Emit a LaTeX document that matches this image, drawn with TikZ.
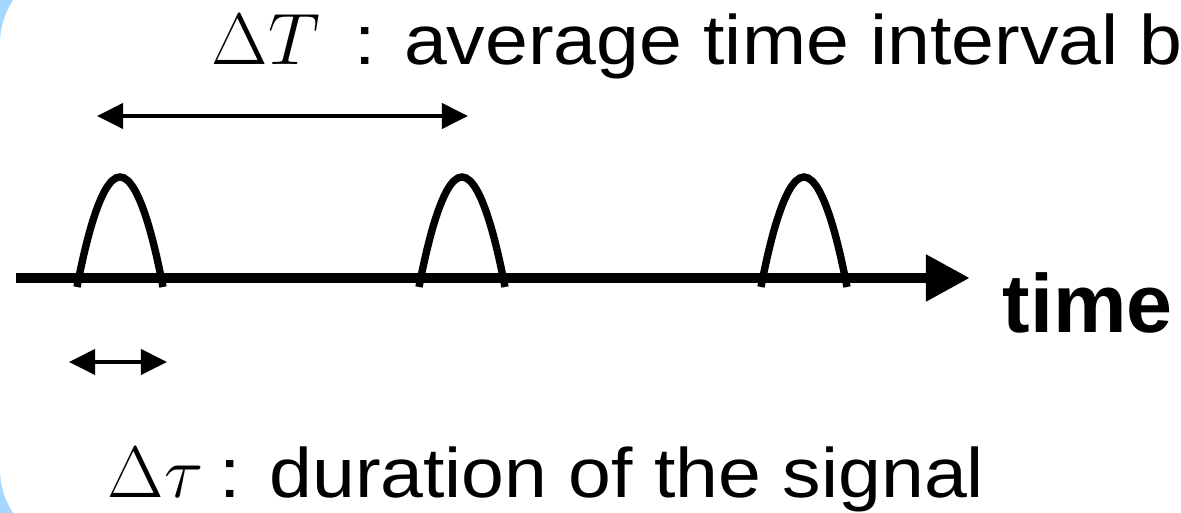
\documentclass[tikz,border=0pt]{standalone}
\usepackage{fontspec}
\usetikzlibrary{arrows.meta, positioning}
\newfontfamily\labelfont{Liberation Sans}[FakeStretch=1.1]
\newfontfamily\axisfont{Liberation Sans}
\definecolor{frameBlue}{HTML}{A6D8FF}
\newcommand{\mathsize}{\fontsize{21.6pt}{26pt}\selectfont}
\tikzset{
  labelText/.style={anchor=base west, inner sep=0pt,
                    font=\labelfont\fontsize{19.9pt}{24pt}\selectfont},
  axisText/.style={anchor=base west, inner sep=0pt,
                   font=\axisfont\bfseries\fontsize{23.5pt}{28pt}\selectfont},
  timeLine/.style={-{Triangle[length=0.44cm, width=0.44cm]}, line width=3.1pt},
  pulse/.style={line width=2.1pt},
  spanArrow/.style={{Triangle[length=0.26cm, width=0.25cm]}-{Triangle[length=0.26cm, width=0.25cm]},
                    line width=1.1pt},
}

\begin{document}
\begin{tikzpicture}[x=0.01cm, y=-0.01cm]
    \useasboundingbox (0,0) rectangle (1181,513);
    \clip (0,0) rectangle (1181,513);
    % frame
    \fill[frameBlue] (0,0) rectangle (1181,513);
    \fill[white, rounded corners=22.8pt] (0,-36) rectangle (1300,549);
    % time axis
    \coordinate (t0) at (16,278);
    \coordinate (t1) at (970,278);
    \draw[timeLine] (t0) -- (t1);
    \node[axisText] (time) at (1002,333) {time};
    % signals
    \foreach \x in {77, 419, 761}
      \draw[pulse] (\x,287) parabola bend (\x+43,177) (\x+86,287);
    % intervals
    \coordinate (TL) at (97,116);
    \coordinate (TR) at (468,116);
    \draw[spanArrow] (TL) -- (TR);
    \coordinate (tauL) at (69,362);
    \coordinate (tauR) at (167,362);
    \draw[spanArrow] (tauL) -- (tauR);
    % labels
    \node[labelText] (dT) at (211,65) {{\mathsize$\Delta T$}\hspace{0.13cm} : average time interval b};
    \node[labelText] (dtau) at (107,498) {{\mathsize$\Delta\tau$}\hspace{-0.05cm} : duration of the signal};
  \end{tikzpicture}
\end{document}
